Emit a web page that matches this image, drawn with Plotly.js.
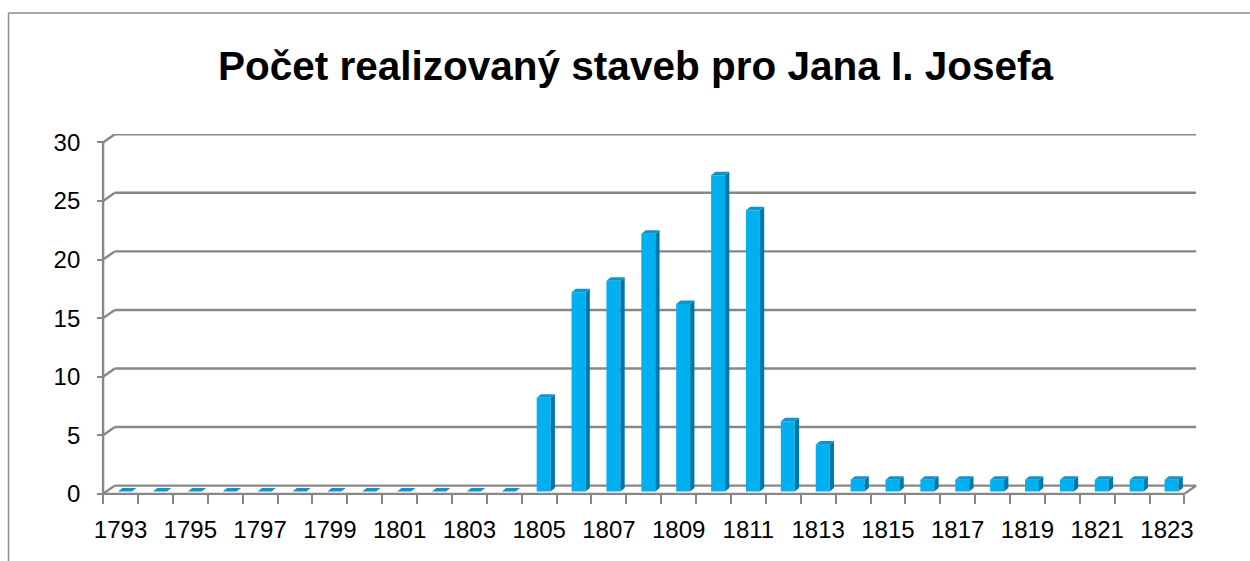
<!DOCTYPE html>
<html>
<head>
<meta charset="utf-8">
<script src="https://cdn.plot.ly/plotly-3.0.1.min.js"></script>
<style>
  html, body { margin: 0; padding: 0; background: #ffffff; }
  #chart { width: 1250px; height: 561px; }
</style>
</head>
<body>
<div id="chart"></div>
<script>
// ---- data ----
const years = ['1793','1794','1795','1796','1797','1798','1799','1800','1801','1802',
               '1803','1804','1805','1806','1807','1808','1809','1810','1811','1812',
               '1813','1814','1815','1816','1817','1818','1819','1820','1821','1822','1823'];
const counts = [0,0,0,0,0,0,0,0,0,0,
                0,0,8,17,18,22,16,27,24,6,
                4,1,1,1,1,1,1,1,1,1,1];
const yTickValues = [0,5,10,15,20,25,30];
const xLabelYears = ['1793','1795','1797','1799','1801','1803','1805','1807','1809','1811',
                     '1813','1815','1817','1819','1821','1823'];
const titleText = 'Počet realizovaný staveb pro Jana I. Josefa';

// ---- geometry / style ----
const W = 1250, H = 561;
const M = {l: 101, r: 53, t: 134, b: 66};
const XR = [-0.56, 30.86], YR = [-0.1, 30.72];
const plotW = W - M.l - M.r, plotH = H - M.t - M.b;
const pxX = v => M.l + (v - XR[0]) / (XR[1] - XR[0]) * plotW;
const pxY = v => H - M.b - (v - YR[0]) / (YR[1] - YR[0]) * plotH;
const paperX = px => (px - M.l) / plotW;
const paperY = py => (H - M.b - py) / plotH;

const WALL_DX = 0.335, WALL_DY = 0.70;   // depth of back wall
const BAR_BASE = 0.2, BAR_W = 0.40, BAR_OFF = -0.07;
const BAR_DX = 0.123, BAR_DY = 0.30;      // depth of bars
const GRID = '#878787';
const FONT = 'Liberation Sans, Arial, sans-serif';

const idx = years.map((_, i) => i);
const nCat = years.length;
const xLabelIdx = xLabelYears.map(y => years.indexOf(y));
const boundaries = idx.map(i => i - 0.5).concat([nCat - 0.5]);

// front faces
const frontTrace = {
  type: 'bar', x: idx, y: counts, base: BAR_BASE,
  width: BAR_W, offset: BAR_OFF,
  marker: {color: '#00B0F0', line: {width: 0}},
  hoverinfo: 'skip'
};

// side faces
const sx = [], sy = [];
idx.forEach(i => {
  const v = counts[i];
  if (v <= 0) return;
  const xr = i + BAR_OFF + BAR_W;
  sx.push(xr, xr + BAR_DX, xr + BAR_DX, xr, xr, null);
  sy.push(BAR_BASE, BAR_BASE + BAR_DY, BAR_BASE + v + BAR_DY, BAR_BASE + v, BAR_BASE, null);
});
const sideTrace = {
  type: 'scatter', mode: 'lines', x: sx, y: sy, fill: 'toself',
  fillcolor: '#0079A8', line: {width: 0}, hoverinfo: 'skip'
};

// top faces
const tx = [], ty = [];
idx.forEach(i => {
  const v = counts[i];
  const xl = i + BAR_OFF, xr = xl + BAR_W, yt = BAR_BASE + v;
  tx.push(xl, xr, xr + BAR_DX, xl + BAR_DX, xl, null);
  ty.push(yt, yt, yt + BAR_DY, yt + BAR_DY, yt, null);
});
const topTrace = {
  type: 'scatter', mode: 'lines', x: tx, y: ty, fill: 'toself',
  fillcolor: '#1592C8', line: {width: 0}, hoverinfo: 'skip'
};

// wall / floor lines
const shapes = [];
const ln = (x0, y0, x1, y1) => ({
  type: 'line', xref: 'x', yref: 'y', x0, y0, x1, y1,
  line: {color: GRID, width: 2.4}, layer: 'below'
});
const xFront0 = -0.5, xFront1 = nCat - 0.5;
yTickValues.forEach(t => {
  shapes.push(ln(xFront0, t, xFront0 + WALL_DX, t + WALL_DY));
  shapes.push(ln(xFront0 + WALL_DX, t + WALL_DY, xFront1 + WALL_DX, t + WALL_DY));
});
shapes.push(ln(xFront0, 0, xFront1, 0));
shapes.push(ln(xFront1, 0, xFront1 + WALL_DX, WALL_DY));
shapes.push(ln(xFront0, 0, xFront0, yTickValues[yTickValues.length - 1]));

// outer chart frame (paper coords)
shapes.push({type: 'line', xref: 'paper', yref: 'paper',
  x0: paperX(8.5), y0: paperY(13), x1: paperX(8.5), y1: paperY(H + 2),
  line: {color: '#8c8c8c', width: 1.5}});
shapes.push({type: 'line', xref: 'paper', yref: 'paper',
  x0: paperX(8.5), y0: paperY(13), x1: paperX(W + 2), y1: paperY(13),
  line: {color: '#8c8c8c', width: 1.5}});

const layout = {
  width: W, height: H,
  margin: M,
  paper_bgcolor: '#ffffff', plot_bgcolor: 'rgba(0,0,0,0)',
  showlegend: false, hovermode: false,
  title: {
    text: '<b>' + titleText + '</b>',
    font: {family: FONT, size: 40.5, color: '#000000'},
    xref: 'container', yref: 'container',
    x: 635.5 / W, xanchor: 'center',
    y: 1 - 66 / H, yanchor: 'middle'
  },
  xaxis: {
    range: XR, showgrid: false, zeroline: false, showline: false,
    tickmode: 'array', tickvals: xLabelIdx, ticktext: xLabelYears,
    ticks: '', ticklabelstandoff: 19,
    tickfont: {family: FONT, size: 24, color: '#000000'},
    minor: {tickmode: 'array', tickvals: boundaries, ticks: 'outside',
            ticklen: 9, tickwidth: 2, tickcolor: GRID, showgrid: false},
    anchor: 'free', position: paperY(pxY(0)),
    fixedrange: true
  },
  yaxis: {
    range: YR, showgrid: false, zeroline: false, showline: false,
    tickmode: 'array', tickvals: yTickValues,
    ticks: 'outside', ticklen: 6, tickwidth: 2, tickcolor: GRID,
    ticklabelstandoff: 12,
    tickfont: {family: FONT, size: 24, color: '#000000'},
    anchor: 'free', position: paperX(pxX(-0.5)),
    fixedrange: true
  },
  shapes: shapes
};

Plotly.newPlot('chart', [frontTrace, sideTrace, topTrace], layout, {displayModeBar: false, staticPlot: true});
</script>
</body>
</html>
